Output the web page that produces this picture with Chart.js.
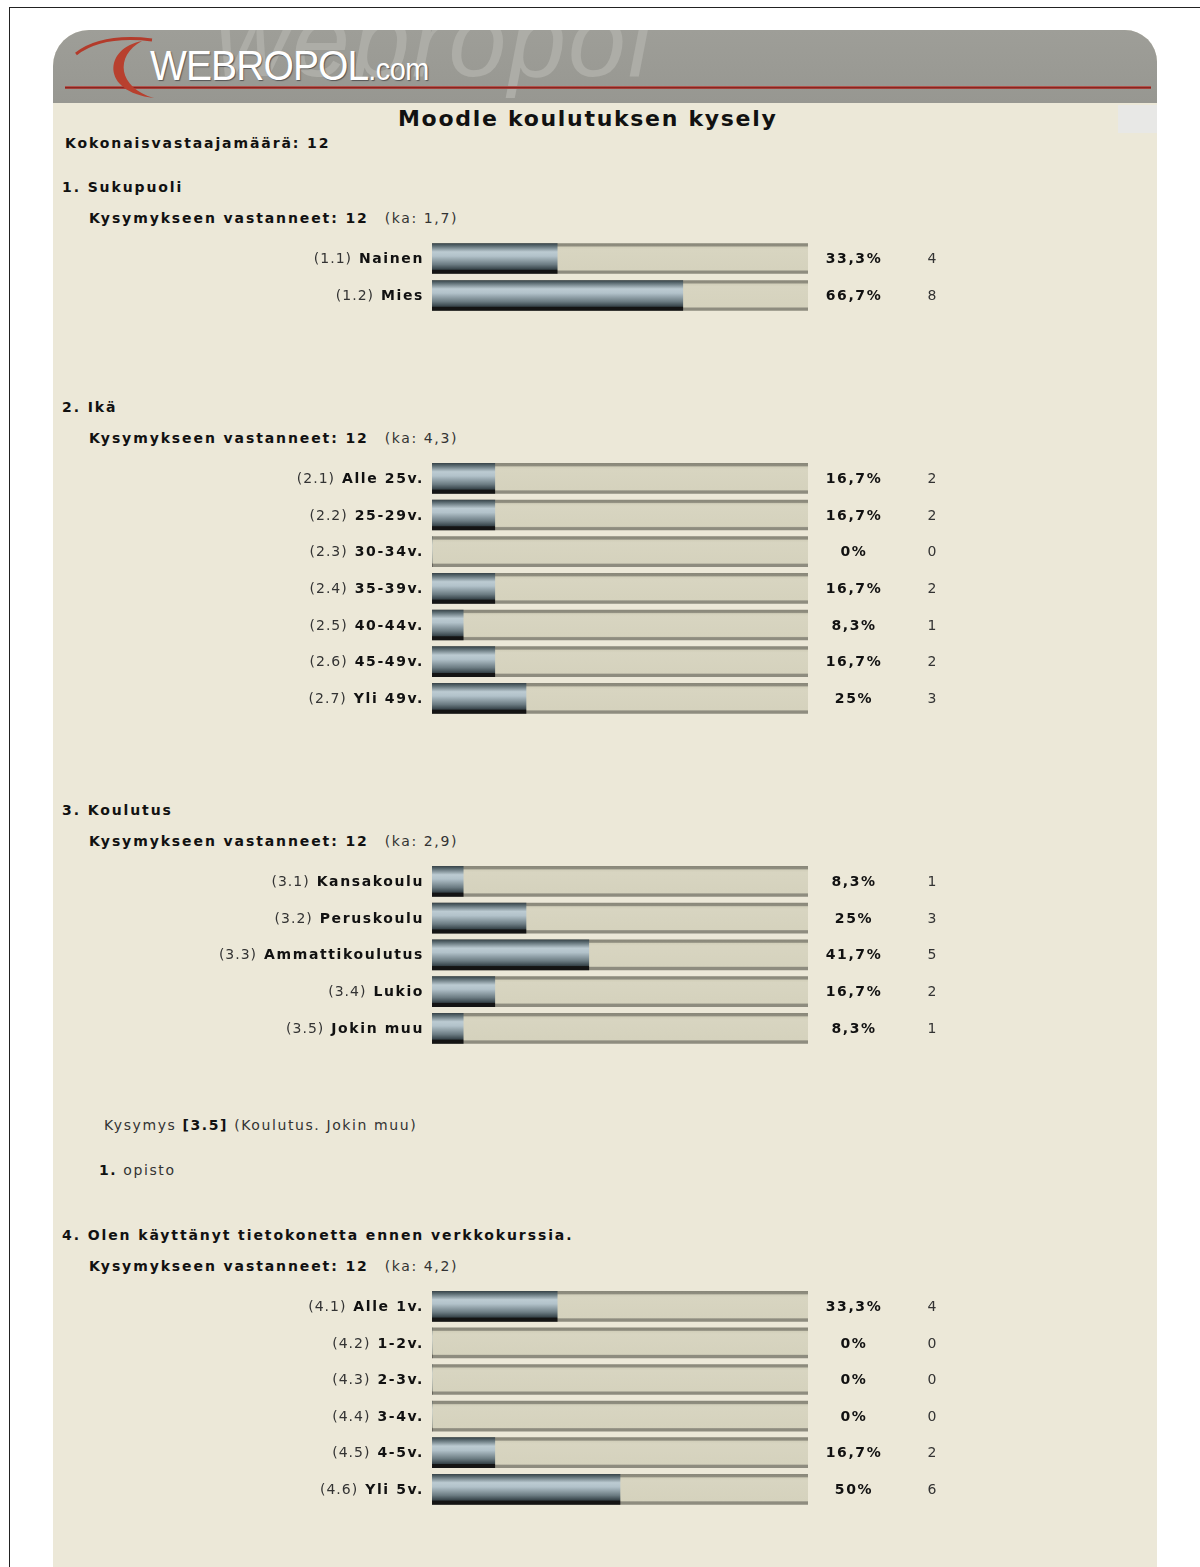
<!DOCTYPE html>
<html>
<head>
<meta charset="utf-8">
<title>Moodle koulutuksen kysely</title>
<script src="https://cdn.jsdelivr.net/npm/chart.js@4/dist/chart.umd.min.js"></script>
<style>
  body { margin: 0; width: 1200px; height: 1567px; background: #fff; position: relative; overflow: hidden;
         font-family: "DejaVu Sans", Verdana, sans-serif; color: #222; }
  #frame { position: absolute; left: 9px; top: 7px; width: 1300px; height: 1700px;
           border-left: 1px solid #222; border-top: 1px solid #222; }
  #panel { position: absolute; left: 53px; top: 30px; width: 1104px; height: 1600px; background: #ECE8D8;
           border-radius: 36px 32px 0 0; overflow: hidden; }
  #head { position: absolute; left: 0; top: 0; width: 1104px; height: 73px;
          background: linear-gradient(#9e9e98, #979791); overflow: hidden; }
  #mark { position: absolute; left: 162px; top: -40px; font: italic 104px/100px "Liberation Sans", Arial, sans-serif;
          color: #adada7; letter-spacing: 2px; white-space: nowrap; }
  #logo { position: absolute; left: 97px; top: 15px; font: 42px/42px "Liberation Sans", Arial, sans-serif;
          color: #fff; letter-spacing: -1px; transform: scaleX(0.93); transform-origin: left;
          text-shadow: 1px 1px 1px #555; white-space: nowrap; }
  #logo span { font-size: 31px; letter-spacing: -0.5px; }
  #redline { position: absolute; left: 12px; top: 56px; width: 1086px; height: 3px;
             background: linear-gradient(#c46a62, #8a2520 50%, #b0504a); }
  #corner { position: absolute; left: 1065px; top: 75px; width: 39px; height: 28px; background: #e8e8e6; }
  .t { position: absolute; white-space: nowrap; line-height: 20px; }
  .h { font-weight: bold; font-size: 14px; letter-spacing: 1.9px; color: #111; }
  .n { font-size: 14px; letter-spacing: 1.6px; color: #333; font-weight: normal; }
  .ka { margin-left: 16px; }
  .q { position: absolute; left: 0; width: 1200px; }
</style>
</head>
<body>
<div id="frame"></div>
<div id="panel">
  <div id="head">
    <div id="mark">webropol</div>
    <div id="redline"></div>
    <div id="logo">WEBROPOL<span>.com</span></div>
  </div>
  <div id="corner"></div>
</div>
<svg style="position:absolute;left:0;top:0" width="1200" height="110">
  <path d="M 76 54 Q 102 34 152 40" stroke="#b33b2b" stroke-width="3" fill="none"/>
  <path d="M 142 41 C 104 48 100 92 154 98 C 118 88 114 56 142 41 Z" fill="#b8402e"/>
</svg>

<div class="t" style="left:398px;top:109px;font-size:22px;font-weight:bold;letter-spacing:1.7px;color:#111">Moodle koulutuksen kysely</div>
<div class="t h" style="left:65px;top:133px">Kokonaisvastaajamäärä: 12</div>

<div class="t h" style="left:62px;top:177px">1. Sukupuoli</div>
<div class="t h" style="left:89px;top:208px">Kysymykseen vastanneet: 12<span class="n ka">(ka: 1,7)</span></div>
<div class="q" style="top:239.5px;height:74px"><canvas id="c1"></canvas></div>

<div class="t h" style="left:62px;top:397px">2. Ikä</div>
<div class="t h" style="left:89px;top:428px">Kysymykseen vastanneet: 12<span class="n ka">(ka: 4,3)</span></div>
<div class="q" style="top:459.7px;height:256.7px"><canvas id="c2"></canvas></div>

<div class="t h" style="left:62px;top:800px">3. Koulutus</div>
<div class="t h" style="left:89px;top:831px">Kysymykseen vastanneet: 12<span class="n ka">(ka: 2,9)</span></div>
<div class="q" style="top:862.6px;height:183.7px"><canvas id="c3"></canvas></div>

<div class="t n" style="left:104px;top:1115px">Kysymys <b style="color:#111">[3.5]</b> (Koulutus. Jokin muu)</div>
<div class="t n" style="left:99px;top:1160px"><b style="color:#111">1.</b> opisto</div>

<div class="t h" style="left:62px;top:1225px">4. Olen käyttänyt tietokonetta ennen verkkokurssia.</div>
<div class="t h" style="left:89px;top:1256px">Kysymykseen vastanneet: 12<span class="n ka">(ka: 4,2)</span></div>
<div class="q" style="top:1287.7px;height:219.6px"><canvas id="c4"></canvas></div>

<script>
// 1. Sukupuoli
const q1Labels = ['Nainen', 'Mies'];
const q1Percent = [33.3, 66.7];
const q1Count = [4, 8];

// 2. Ikä
const q2Labels = ['Alle 25v.', '25-29v.', '30-34v.', '35-39v.', '40-44v.', '45-49v.', 'Yli 49v.'];
const q2Percent = [16.7, 16.7, 0, 16.7, 8.3, 16.7, 25];
const q2Count = [2, 2, 0, 2, 1, 2, 3];

// 3. Koulutus
const q3Labels = ['Kansakoulu', 'Peruskoulu', 'Ammattikoulutus', 'Lukio', 'Jokin muu'];
const q3Percent = [8.3, 25, 41.7, 16.7, 8.3];
const q3Count = [1, 3, 5, 2, 1];

// 4. Olen käyttänyt tietokonetta ennen verkkokurssia.
const q4Labels = ['Alle 1v.', '1-2v.', '2-3v.', '3-4v.', '4-5v.', 'Yli 5v.'];
const q4Percent = [33.3, 0, 0, 0, 16.7, 50];
const q4Count = [4, 0, 0, 0, 2, 6];

const FONT = '"DejaVu Sans", Verdana, sans-serif';
const BAR = 30;

function fmtPercent(v) {
  return String(v).replace('.', ',') + '%';
}

// vertical gradient for one bar, positioned from the y scale
function barGradient(c, stops, fallback) {
  const y = c.chart.scales.y;
  if (!y || c.dataIndex === undefined) return fallback;
  const mid = y.getPixelForValue(c.dataIndex);
  if (!isFinite(mid)) return fallback;
  const g = c.chart.ctx.createLinearGradient(0, mid - BAR / 2, 0, mid + BAR / 2);
  stops.forEach(s => g.addColorStop(s[0], s[1]));
  return g;
}

const metalStops = [
  [0, '#3b474c'], [0.07, '#56666c'], [0.28, '#bccbd2'], [0.42, '#b2c2ca'],
  [0.7, '#6c7c83'], [0.86, '#37444a'], [0.89, '#141414'], [1, '#141414']
];
const trackStops = [
  [0, '#8a887a'], [0.08, '#8f8d7f'], [0.12, '#d2cfba'], [0.2, '#d8d5c1'],
  [0.88, '#d5d2bd'], [0.92, '#8e8c7f'], [1, '#8e8c7f']
];

const rowText = {
  id: 'rowText',
  afterDatasetsDraw(chart, args, opts) {
    const ctx = chart.ctx;
    const x = chart.scales.x, y = chart.scales.y;
    const left = x.getPixelForValue(0), right = x.getPixelForValue(100);
    ctx.save();
    ctx.textBaseline = 'middle';
    chart.data.labels.forEach((lab, i) => {
      const yc = y.getPixelForValue(i) + 1;
      ctx.letterSpacing = '1.6px';
      ctx.textAlign = 'right';
      ctx.font = 'bold 14px ' + FONT;
      ctx.fillStyle = '#111';
      ctx.fillText(lab, left - 8, yc);
      const w = ctx.measureText(lab).width;
      ctx.font = '14px ' + FONT;
      ctx.letterSpacing = '1px';
      ctx.fillStyle = '#333';
      ctx.fillText('(' + opts.q + '.' + (i + 1) + ')', left - 8 - w - 7, yc);

      ctx.textAlign = 'center';
      ctx.letterSpacing = '1.6px';
      ctx.font = 'bold 14px ' + FONT;
      ctx.fillStyle = '#111';
      ctx.fillText(fmtPercent(opts.percent[i]), right + 46, yc);
      ctx.letterSpacing = '0px';
      ctx.font = '14px ' + FONT;
      ctx.fillStyle = '#333';
      ctx.fillText(String(opts.count[i]), right + 124, yc);
    });
    ctx.restore();
  }
};

function makeChart(id, q, labels, percent, count) {
  return new Chart(document.getElementById(id), {
    type: 'bar',
    data: {
      labels: labels,
      datasets: [
        {
          data: percent,
          backgroundColor: c => barGradient(c, metalStops, '#7d8c92'),
          barThickness: BAR,
          grouped: false,
          order: 1
        },
        {
          data: labels.map(() => 100),
          backgroundColor: c => barGradient(c, trackStops, '#d6d3bf'),
          barThickness: BAR,
          grouped: false,
          order: 2
        }
      ]
    },
    options: {
      indexAxis: 'y',
      responsive: true,
      maintainAspectRatio: false,
      animation: false,
      events: [],
      layout: { padding: { left: 432, right: 392, top: 0, bottom: 0 } },
      scales: {
        x: { min: 0, max: 100, display: false },
        y: { display: false }
      },
      plugins: {
        legend: { display: false },
        tooltip: { enabled: false },
        rowText: { q: q, percent: percent, count: count }
      }
    },
    plugins: [rowText]
  });
}

makeChart('c1', 1, q1Labels, q1Percent, q1Count);
makeChart('c2', 2, q2Labels, q2Percent, q2Count);
makeChart('c3', 3, q3Labels, q3Percent, q3Count);
makeChart('c4', 4, q4Labels, q4Percent, q4Count);
</script>
</body>
</html>
